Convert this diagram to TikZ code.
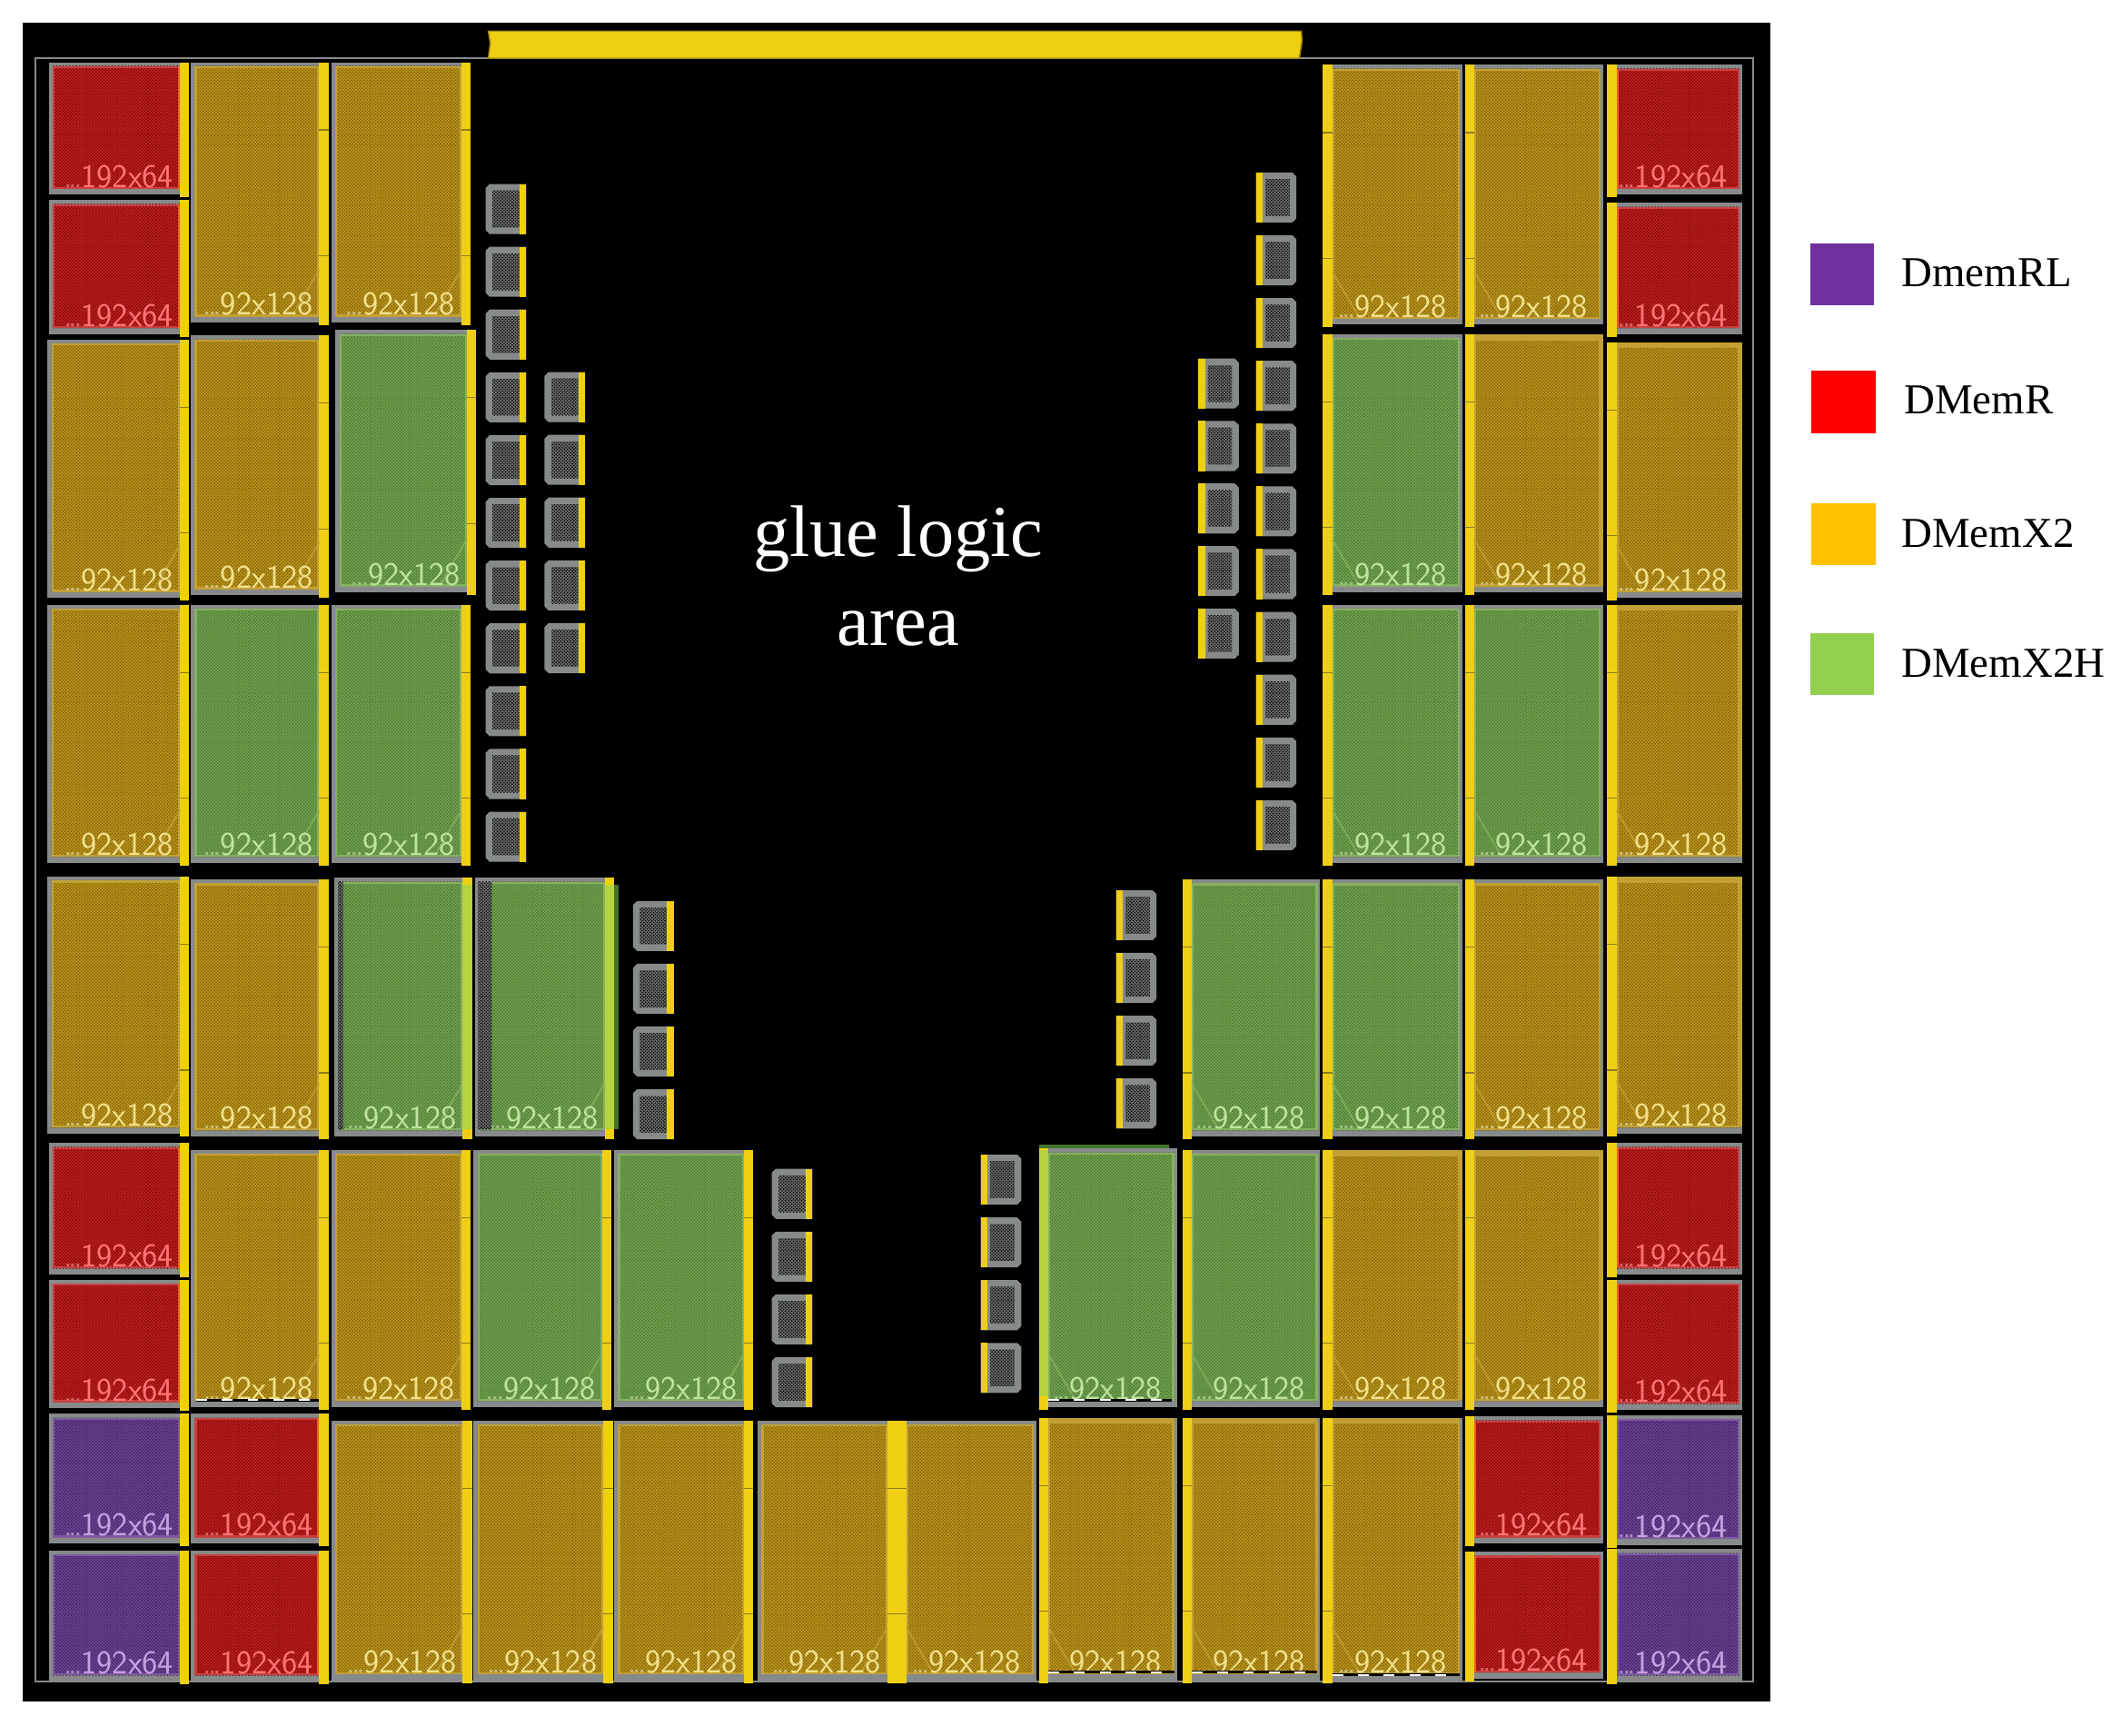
\documentclass[tikz,border=0pt]{standalone}
\usepackage{fontspec}
\setmainfont{Liberation Serif}
\usetikzlibrary{patterns.meta}
\definecolor{memorange}{HTML}{B8921A}\definecolor{memorangeD}{HTML}{7A5C08}\definecolor{memorangeR}{HTML}{C2A035}\definecolor{memorangeT}{HTML}{F2E08C}\definecolor{memorangeE}{HTML}{C2A035}
\definecolor{memred}{HTML}{BC1E1E}\definecolor{memredD}{HTML}{740606}\definecolor{memredR}{HTML}{C84040}\definecolor{memredT}{HTML}{FF7474}\definecolor{memredE}{HTML}{F0601E}
\definecolor{memgreen}{HTML}{709F4E}\definecolor{memgreenD}{HTML}{46742F}\definecolor{memgreenR}{HTML}{86B060}\definecolor{memgreenT}{HTML}{BFE3A0}\definecolor{memgreenE}{HTML}{86B060}
\definecolor{mempurple}{HTML}{6A4292}\definecolor{mempurpleD}{HTML}{38205A}\definecolor{mempurpleR}{HTML}{7E5AA0}\definecolor{mempurpleT}{HTML}{C8A0E0}\definecolor{mempurpleE}{HTML}{7E5AA0}
\definecolor{memgray}{HTML}{868A8A}\definecolor{memyellow}{HTML}{EFCF14}\definecolor{memlime}{HTML}{B5D33C}\definecolor{memnotch}{HTML}{8E7C1C}
\definecolor{chipbase}{HTML}{6A6A6A}
\newcounter{lblc}
\tikzset{
  memlabel/.style={font=\sffamily\fontsize{24.5}{25}\selectfont,inner sep=0pt,anchor=base east},
  legtext/.style={font=\fontsize{31.5}{33}\selectfont,text=black,inner sep=0pt,anchor=base west},
  gluetext/.style={font=\fontsize{54}{60}\selectfont,text=white,inner sep=0pt,anchor=base},
  checker/.style={pattern={Dots[radius=0.62pt,distance=1.7pt,angle=45]},pattern color=#1},
}
\newcommand\dd{\textcolor{.!85!black}{.\kern-2.6pt.\kern-2.6pt.}\kern-1pt}
\newcommand\memNotch[3]{%
  \draw[memnotch,line width=.8pt] (#1,#3) -- (#2,#3);
}
% left-type memory: strip on the right. x1 y1 x2 y2 kind label big
\newcommand\memL[7]{%
  \pgfmathsetmacro\mS{#3-7}\pgfmathsetmacro\mB{#4+2}\stepcounter{lblc}%
  \fill[memgray] (#1,#2) rectangle (\mS,#4);
  \fill[mem#5] (#1+3,#2+3) rectangle (\mS,#4-4.5);
  \fill[checker=mem#5D] (#1+3,#2+3) rectangle (\mS,#4-4.5);
  \draw[mem#5R,line width=1.5pt] (#1+3.7,#2+3.7) rectangle (\mS-.7,#4-5.2);
  \draw[mem#5E,line width=1.5pt] (\mS-.7,#2+3) -- (\mS-.7,#4-4.5);
  \fill[memyellow] (\mS,#2) rectangle (#3,\mB);
  \ifnum#7=1
    \draw[mem#5R,line width=1.2pt,opacity=.8] (\mS,#4-39) -- (\mS-20,#4-5);
    \memNotch{\mS}{#3}{#2+50}\memNotch{\mS}{#3}{#2+143}
  \fi
  \node[memlabel,text=mem#5T] (lbl\thelblc) at (\mS-4.5,#4-5.5) {#6};
}
% right-type memory: strip on the left
\newcommand\memR[7]{%
  \pgfmathsetmacro\mS{#1+7}\pgfmathsetmacro\mB{#4+2}\stepcounter{lblc}%
  \fill[memgray] (\mS,#2) rectangle (#3,#4);
  \fill[mem#5] (\mS,#2+3) rectangle (#3-2,#4-4.5);
  \fill[checker=mem#5D] (\mS,#2+3) rectangle (#3-2,#4-4.5);
  \draw[mem#5R,line width=1.5pt] (\mS+.7,#2+3.7) rectangle (#3-2.7,#4-5.2);
  \draw[mem#5E,line width=1.5pt] (\mS+.7,#2+3) -- (\mS+.7,#4-4.5);
  \fill[memyellow] (#1,#2) rectangle (\mS,\mB);
  \ifnum#7=1
    \draw[mem#5R,line width=1.2pt,opacity=.8] (\mS,#4-39) -- (\mS+20,#4-5);
    \memNotch{#1}{\mS}{#2+50}\memNotch{#1}{\mS}{#2+143}
  \fi
  \node[memlabel,text=mem#5T] (lbl\thelblc) at (#3-11,#4-5.5) {#6};
}
% rim colour replacing the gray top (and right) edge
\newcommand\rimTop[3]{\fill[memorangeR] (#1,#3) rectangle (#2,#3+4.5);}
\newcommand\rimRight[3]{\fill[memorangeR] (#1-2.5,#2) rectangle (#1,#3);}
% small blocks
\newcommand\chipL[2]{%
  \fill[memgray] (#1+3,#2) -- (#1+30,#2) -- (#1+30,#2+37) -- (#1+3,#2+37) -- (#1,#2+34) -- (#1,#2+3) -- cycle;
  \fill[chipbase] (#1+5,#2+5) rectangle (#1+25,#2+32);
  \fill[checker=black] (#1+5,#2+5) rectangle (#1+25,#2+32);
  \fill[memyellow] (#1+25,#2) rectangle (#1+30,#2+37);
}
\newcommand\chipR[2]{%
  \fill[memgray] (#1,#2) -- (#1+27,#2) -- (#1+30,#2+3) -- (#1+30,#2+34) -- (#1+27,#2+37) -- (#1,#2+37) -- cycle;
  \fill[chipbase] (#1+7,#2+5) rectangle (#1+25,#2+32);
  \fill[checker=black] (#1+7,#2+5) rectangle (#1+25,#2+32);
  \fill[memyellow] (#1,#2) rectangle (#1+5,#2+37);
}
\newcommand\dashband[3]{%
  \draw[black,line width=2.2pt] (#1,#3) -- (#2,#3);
  \draw[white,line width=1.2pt,dash pattern=on 8pt off 11pt] (#1,#3) -- (#2,#3);
}
\def\SA{\dd 192x64}\def\SB{\dd 92x128}
\begin{document}
\begin{tikzpicture}[x=1pt,y=-1pt]
\useasboundingbox (0,0) rectangle (1568,1283);
\fill[black] (17,17) rectangle (1309,1258);
\draw[memgray,line width=1.4pt] (26,43) rectangle (1296,1243);
% top bar
\fill[memyellow,draw=black!30!memyellow,line width=1pt] (361,23) -- (962,23) -- (962.5,30) -- (960.5,43) -- (361,43) -- (362.5,32) -- cycle;
% left half, row a
\memL{36}{46}{140}{144}{red}{\SA}{0}
\memL{36}{148}{140}{247}{red}{\SA}{0}
\memL{141}{46}{243}{238.5}{orange}{\SB}{1}
\memL{245}{46}{348}{238.5}{orange}{\SB}{1}
% row b
\memL{35}{251}{140}{442}{orange}{\SB}{1}
\memL{141}{248}{243}{440}{orange}{\SB}{1}
\memL{248}{244}{352}{438}{green}{\SB}{1}
% row c
\memL{35}{447}{140}{638}{orange}{\SB}{1}
\memL{141}{447}{243}{638}{green}{\SB}{1}
\memL{245}{447}{348}{638}{green}{\SB}{1}
% row d
\memL{35}{648}{140}{838}{orange}{\SB}{1}
\memL{141}{650}{243}{840}{orange}{\SB}{1}
\memL{247}{649}{349}{840}{green}{\SB}{1}
\fill[chipbase] (250,652) rectangle (253.6,835);
\fill[checker=black] (250,652) rectangle (253.6,835);
\fill[memlime] (342,654) rectangle (349,835);
\memL{351}{649}{454}{840}{green}{\SB}{1}
\fill[chipbase] (353.5,652) rectangle (363.6,835);
\fill[checker=black] (353.5,652) rectangle (363.6,835);
\fill[memlime] (447,654) rectangle (454,835);
\fill[memgreenD] (454,654) rectangle (457.5,835);
% row e
\memL{36}{845}{140}{942}{red}{\SA}{0}
\memL{36}{946}{140}{1041}{red}{\SA}{0}
\memL{141}{850}{243}{1040}{orange}{\SB}{1}
\dashband{145}{236}{1035}
\memL{245}{850}{348}{1040}{orange}{\SB}{1}
\memL{350}{850}{452}{1040}{green}{\SB}{1}
\memL{454}{850}{557}{1040}{green}{\SB}{1}
% row f
\memL{36}{1045}{140}{1141}{purple}{\SA}{0}
\memL{36}{1146}{140}{1243}{purple}{\SA}{0}
\memL{141}{1045}{243}{1141}{red}{\SA}{0}
\memL{141}{1146}{243}{1243}{red}{\SA}{0}
\memL{245}{1050}{349}{1242}{orange}{\SB}{1}
\memL{350}{1050}{453}{1242}{orange}{\SB}{1}
\memL{454}{1050}{557}{1242}{orange}{\SB}{1}
\memL{560}{1050}{663}{1242}{orange}{\SB}{1}
\memR{663}{1050}{766}{1242}{orange}{\SB}{1}
\memR{768}{1048}{870}{1242}{orange}{\SB}{1}
\memR{874}{1048}{976}{1242}{orange}{\SB}{1}
\memR{978}{1048}{1081}{1242}{orange}{\SB}{1}
\rimTop{775}{868}{1048}\rimTop{881}{974}{1048}\rimTop{985}{1079}{1048}
\dashband{775}{868}{1236}\dashband{881}{974}{1236}\dashband{985}{1079}{1238}
\memR{1083}{1047}{1185}{1141}{red}{\SA}{0}
\memR{1083}{1147}{1185}{1241}{red}{\SA}{0}
\memR{1188}{1046}{1288}{1142}{purple}{\SA}{0}
\memR{1188}{1145}{1288}{1243}{purple}{\SA}{0}
% right row e
\fill[memgreenD] (768,846) rectangle (864,850);
\memR{768}{849}{870}{1040}{green}{\SB}{1}
\fill[memlime] (768,850) rectangle (775,1032);
\dashband{775}{866}{1035}
\memR{874}{850}{976}{1040}{green}{\SB}{1}
\memR{978}{850}{1081}{1040}{orange}{\SB}{1}
\memR{1083}{850}{1185}{1040}{orange}{\SB}{1}
\rimTop{985}{1081}{850}\rimTop{1090}{1185}{850}
\rimRight{1081}{850}{1035}\rimRight{1185}{850}{1035}
\memR{1188}{845}{1288}{942}{red}{\SA}{0}
\memR{1188}{946}{1288}{1042}{red}{\SA}{0}
% right row d
\memR{874}{650}{976}{840}{green}{\SB}{1}
\memR{978}{650}{1081}{840}{green}{\SB}{1}
\memR{1083}{650}{1185}{840}{orange}{\SB}{1}
\memR{1188}{648}{1288}{838}{orange}{\SB}{1}
\rimTop{1195}{1288}{648}\rimRight{1288}{648}{833}
% right row c
\memR{978}{447}{1081}{638}{green}{\SB}{1}
\memR{1083}{447}{1185}{638}{green}{\SB}{1}
\memR{1188}{447}{1288}{638}{orange}{\SB}{1}
\rimTop{1195}{1288}{447}\rimRight{1288}{447}{633}
% right row b
\memR{978}{247}{1081}{438}{green}{\SB}{1}
\memR{1083}{247}{1185}{438}{orange}{\SB}{1}
\memR{1188}{253}{1288}{442}{orange}{\SB}{1}
\rimTop{1090}{1183}{247}\rimRight{1185}{247}{433}
\rimTop{1195}{1288}{253}\rimRight{1288}{253}{437}
% right row a
\memR{978}{48}{1081}{240}{orange}{\SB}{1}
\memR{1083}{48}{1185}{240}{orange}{\SB}{1}
\memR{1188}{48}{1288}{144}{red}{\SA}{0}
\memR{1188}{150}{1288}{247}{red}{\SA}{0}
% small blocks
\foreach \i in {0,...,10} {\pgfmathsetmacro\yy{136+46.4*\i}\chipL{359}{\yy}}
\foreach \i in {0,...,4} {\pgfmathsetmacro\yy{275+46.4*\i}\chipL{402.5}{\yy}}
\foreach \i in {0,...,3} {\pgfmathsetmacro\yy{666+46.4*\i}\chipL{468}{\yy}}
\foreach \i in {0,...,3} {\pgfmathsetmacro\yy{864+46.4*\i}\chipL{570.5}{\yy}}
\foreach \i in {0,...,10} {\pgfmathsetmacro\yy{127.5+46.4*\i}\chipR{928.4}{\yy}}
\foreach \i in {0,...,4} {\pgfmathsetmacro\yy{265+46.2*\i}\chipR{885.8}{\yy}}
\foreach \i in {0,...,3} {\pgfmathsetmacro\yy{658+46.4*\i}\chipR{825}{\yy}}
\foreach \i in {0,...,3} {\pgfmathsetmacro\yy{853.5+46.4*\i}\chipR{725}{\yy}}
% centre text
\node[gluetext] (glueA) at (664,411) {glue logic};
\node[gluetext] (glueB) at (664,477) {area};
% legend
\fill[fill={rgb,255:red,112;green,48;blue,160}] (1338,180) rectangle (1385.5,225.7);
\fill[red] (1339,274) rectangle (1386.5,320);
\fill[fill={rgb,255:red,255;green,192;blue,0}] (1339,372) rectangle (1386.5,418);
\fill[fill={rgb,255:red,146;green,208;blue,80}] (1338,468) rectangle (1385.5,514);
\node[legtext] (legA) at (1405.5,212) {DmemRL};
\node[legtext] (legB) at (1407.5,306) {DMemR};
\node[legtext] (legC) at (1405.5,404.5) {DMemX2};
\node[legtext] (legD) at (1405.5,500.5) {DMemX2H};
\end{tikzpicture}
\end{document}
